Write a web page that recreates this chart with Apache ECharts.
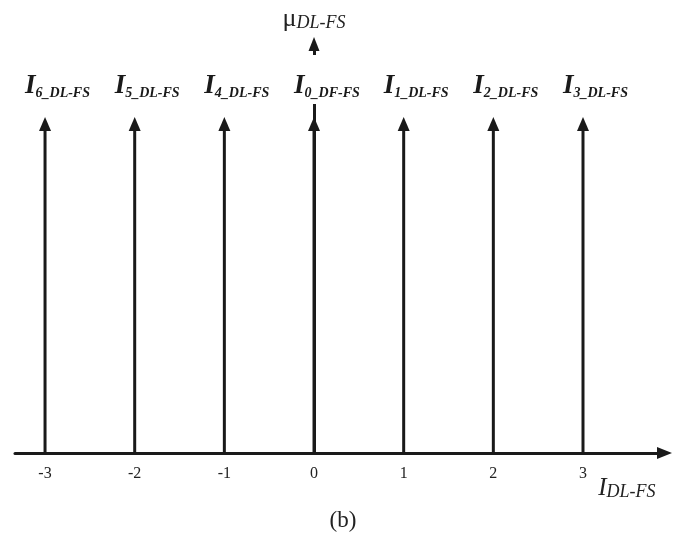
<!DOCTYPE html>
<html>
<head>
<meta charset="UTF-8">
<title>mu DL-FS</title>
<script src="https://cdn.jsdelivr.net/npm/echarts@6/dist/echarts.min.js"></script>
</head>
<body style="margin:0;background:#fff;">
<div id="container" style="width:681px;height:537px;"></div>
<script>
// impulse positions and heights
var positions = [-3, -2, -1, 0, 1, 2, 3];
var heights = [1, 1, 1, 1, 1, 1, 1];
var indices = ['6_DL-FS', '5_DL-FS', '4_DL-FS', '0_DF-FS', '1_DL-FS', '2_DL-FS', '3_DL-FS'];
var tickValues = [-3, -2, -1, 0, 1, 2, 3];

var serif = "'Liberation Serif', 'Times New Roman', serif";
var ink = '#1a1a1a';
var chart = echarts.init(document.getElementById('container'));

var option = {
  backgroundColor: '#fff',
  animation: false,
  grid: { left: 15, right: 16.5, top: 44, bottom: 84 },
  xAxis: {
    type: 'value',
    min: -3.335,
    max: 3.909,
    axisLine: {
      onZero: true,
      symbol: ['none', 'triangle'],
      symbolSize: [12, 15],
      lineStyle: { color: ink, width: 3 }
    },
    axisTick: { show: false },
    splitLine: { show: false },
    axisLabel: {
      customValues: tickValues,
      margin: 13,
      color: '#222',
      fontFamily: serif,
      fontSize: 16
    },
    name: '{i|I}{s|DL-FS}',
    nameLocation: 'end',
    nameGap: -9,
    nameTextStyle: {
      align: 'right',
      verticalAlign: 'top',
      padding: [23, 0, 0, 0],
      rich: {
        i: { fontFamily: serif, fontStyle: 'italic', fontSize: 25, lineHeight: 25, verticalAlign: 'top', color: '#222' },
        s: { fontFamily: serif, fontStyle: 'italic', fontSize: 18, lineHeight: 18, padding: [20, 0, 0, 0], verticalAlign: 'bottom', color: '#222' }
      }
    }
  },
  yAxis: {
    type: 'value',
    min: 0,
    max: 1.217,
    axisLine: {
      show: true,
      onZero: true,
      symbol: ['none', 'triangle'],
      symbolSize: [11, 14],
      lineStyle: { color: ink, width: 3 }
    },
    axisTick: { show: false },
    axisLabel: { show: false },
    splitLine: { show: false },
    name: '{m|μ}{s|DL-FS}',
    nameLocation: 'end',
    nameGap: 12,
    nameTextStyle: {
      align: 'center',
      verticalAlign: 'bottom',
      rich: {
        m: { fontFamily: serif, fontSize: 26, lineHeight: 26, verticalAlign: 'top', color: '#222' },
        s: { fontFamily: serif, fontStyle: 'italic', fontSize: 18, lineHeight: 18, padding: [14, 0, 0, 0], verticalAlign: 'bottom', color: '#222' }
      }
    }
  },
  graphic: [{
    type: 'text',
    x: 343,
    y: 521,
    style: { text: '(b)', font: '23px ' + serif, fill: '#222', align: 'center', verticalAlign: 'middle' }
  }],
  series: [{
    type: 'custom',
    coordinateSystem: 'cartesian2d',
    data: positions.map(function (p, i) { return [p, heights[i], i]; }),
    renderItem: function (params, api) {
      var base = api.coord([api.value(0), 0]);
      var tip = api.coord([api.value(0), api.value(1)]);
      var k = api.value(2);
      return {
        type: 'group',
        children: [
          {
            type: 'line',
            shape: { x1: base[0], y1: base[1], x2: tip[0], y2: tip[1] + 10 },
            style: { stroke: ink, lineWidth: 3 }
          },
          {
            type: 'polygon',
            shape: { points: [[tip[0], tip[1]], [tip[0] - 6, tip[1] + 14], [tip[0] + 6, tip[1] + 14]] },
            style: { fill: ink }
          },
          {
            type: 'text',
            x: tip[0] - 24,
            y: tip[1] - 62,
            style: {
              text: '{i|I}{s|' + indices[k] + '}',
              align: 'left',
              verticalAlign: 'top',
              backgroundColor: '#fff',
              padding: [18, 4, 4, 4],
              rich: {
                i: { fontFamily: serif, fontStyle: 'italic', fontWeight: 'bold', fontSize: 27, lineHeight: 27, verticalAlign: 'top', fill: ink },
                s: { fontFamily: serif, fontStyle: 'italic', fontWeight: 'bold', fontSize: 14, lineHeight: 14, verticalAlign: 'bottom', fill: ink }
              }
            }
          }
        ]
      };
    }
  }]
};

chart.setOption(option);
</script>
</body>
</html>
